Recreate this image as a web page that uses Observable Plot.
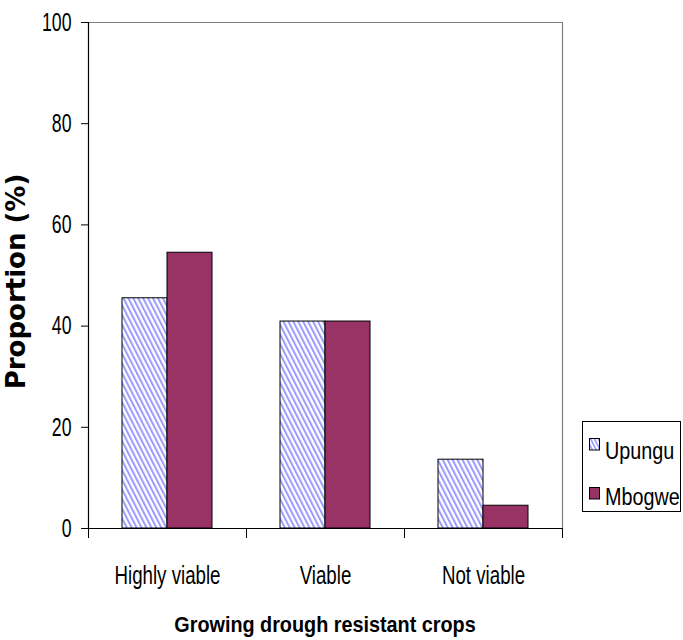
<!DOCTYPE html>
<html><head><meta charset="utf-8">
<script src="https://cdn.jsdelivr.net/npm/d3@7"></script>
<script src="https://cdn.jsdelivr.net/npm/@observablehq/plot@0.6"></script>
<style>
body{margin:0;background:#fff;}
#chart{position:relative;width:683px;height:640px;overflow:hidden;}
#chart svg{display:block;}
#xtitle{position:absolute;left:0;width:650px;top:614px;text-align:center;font:bold 22px/22px 'Liberation Sans',Arial,sans-serif;color:#000;transform:scaleX(0.9);transform-origin:325px 0;white-space:nowrap;}
#legend{position:absolute;left:575px;top:410px;}
</style></head><body><div id="chart"></div>
<script>
// ---- data ----
const categories = ["Highly viable", "Viable", "Not viable"];
const seriesNames = ["Upungu", "Mbogwe"];
const upungu = [45.5, 40.9, 13.6];
const mbogwe = [54.5, 40.9, 4.5];
const yTicks = [0, 20, 40, 60, 80, 100];
const xTitle = "Growing drough resistant crops";
const yTitle = "Proportion (%)";
const seriesColors = ["url(#hatch)", "#993366"];

const data = categories.flatMap((c, i) => [
  {category: c, series: seriesNames[0], value: upungu[i]},
  {category: c, series: seriesNames[1], value: mbogwe[i]}
]);

// ---- layout ----
const W = 683, H = 640, mL = 88, mR = 121, mT = 22, mB = 112;
const facetW = (W - mL - mR) / categories.length;
const labelFont = "'Liberation Sans', Arial, sans-serif";

const svg = Plot.plot({
  width: W, height: H,
  marginLeft: mL, marginRight: mR, marginTop: mT, marginBottom: mB,
  style: {fontFamily: labelFont, background: "#fff", color: "#000", overflow: "visible"},
  fx: {domain: categories, padding: 0, label: null},
  x: {domain: seriesNames, paddingInner: 0, paddingOuter: 0.736, axis: null},
  y: {domain: [0, 100], label: null},
  color: {domain: seriesNames, range: seriesColors},
  marks: [
    Plot.ruleY([100], {stroke: "#808080", strokeWidth: 1.2}),
    Plot.frame({anchor: "right", facetAnchor: "right", stroke: "#808080", strokeWidth: 1.2}),
    Plot.barY(data, {fx: "category", x: "series", y: "value", fill: "series", stroke: "#000", strokeWidth: 1}),
    Plot.frame({anchor: "left", facetAnchor: "left", stroke: "#000", strokeWidth: 1.2}),
    Plot.ruleY([0], {stroke: "#000", strokeWidth: 1.2}),
    Plot.axisY({ticks: yTicks, tickSize: 7, tickPadding: 10, fontSize: 26, label: null}),
    Plot.axisFx({anchor: "bottom", tickSize: 0, tickPadding: 37, fontSize: 26, label: null}),
    Plot.axisFx({anchor: "bottom", tickSize: 10, text: null, dx: -facetW / 2, label: null}),
    Plot.axisFx({anchor: "bottom", ticks: [categories[categories.length - 1]], tickSize: 10, text: null, dx: facetW / 2, label: null}),
    Plot.text([yTitle], {text: d => d, frameAnchor: "left", facetAnchor: "left", textAnchor: "middle", rotate: -90, dx: -72, dy: 6,
      fontSize: 26, fontWeight: "bold", fontFamily: "'DejaVu Sans', Verdana, sans-serif", fill: "#000"})
  ]
});

// hatch pattern
d3.select(svg).insert("defs", ":first-child").html(
  `<pattern id="hatch" patternUnits="userSpaceOnUse" width="4.4" height="10" patternTransform="rotate(-27)">
     <rect width="4.4" height="10" fill="#fff"/><rect width="2" height="10" fill="#9a9aff"/></pattern>`);

// narrow tick labels
const narrow = (sel, s) => d3.select(svg).selectAll(sel).each(function () {
  const t = this.getAttribute("transform") || "";
  this.setAttribute("transform", t + ` scale(${s},1)`);
});
narrow('g[aria-label="y-axis tick label"] text', 0.68);
narrow('g[aria-label="fx-axis tick label"] text', 0.72);

const chart = document.getElementById("chart");
chart.appendChild(svg);

// x title
const xt = document.createElement("div");
xt.id = "xtitle"; xt.textContent = xTitle;
chart.appendChild(xt);

// legend
const lg = d3.select(chart).append("svg").attr("id", "legend").attr("width", 108).attr("height", 110);
lg.append("defs").html(
  `<pattern id="hatchL" patternUnits="userSpaceOnUse" width="3.4" height="10" patternTransform="rotate(-27)">
     <rect width="3.4" height="10" fill="#fff"/><rect width="1.6" height="10" fill="#9a9aff"/></pattern>`);
lg.append("rect").attr("x", 7.5).attr("y", 11.5).attr("width", 98).attr("height", 90)
  .attr("fill", "#fff").attr("stroke", "#000");
const legendFills = ["url(#hatchL)", seriesColors[1]];
const rowY = [28.5, 77.5], baseY = [49, 95];
seriesNames.forEach((s, i) => {
  lg.append("rect").attr("x", 14.5).attr("y", rowY[i]).attr("width", 10).attr("height", 11.5)
    .attr("fill", legendFills[i]).attr("stroke", "#000");
  lg.append("text").attr("transform", `translate(30,${baseY[i]}) scale(0.86,1)`)
    .attr("font-family", labelFont).attr("font-size", 23).attr("fill", "#000").text(s);
});
</script></body></html>
